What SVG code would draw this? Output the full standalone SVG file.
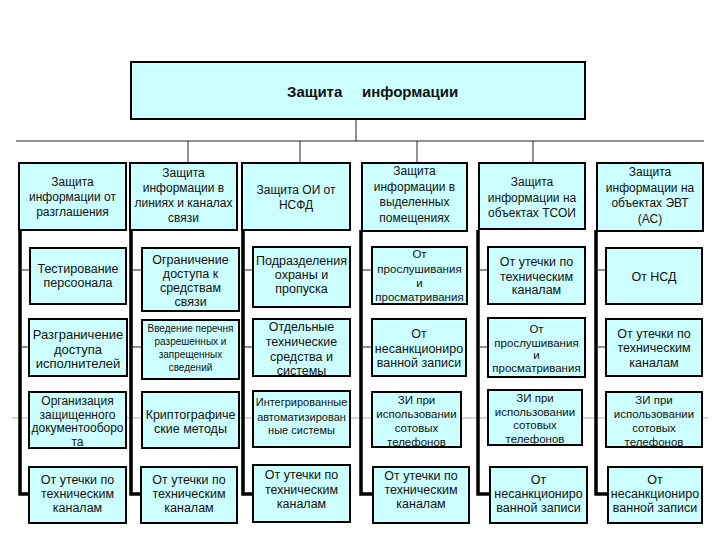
<svg xmlns="http://www.w3.org/2000/svg" width="720" height="540" viewBox="0 0 720 540">
<style>
.b{fill:#ccffff;stroke:#000;stroke-width:2}
.t{font-family:"Liberation Sans",Arial,sans-serif;font-size:12px;fill:#111;text-anchor:middle}
.s{font-size:12.5px}
.xs{font-size:11.5px}
.tiny{font-size:10px}
.c{stroke:#222;stroke-width:1;fill:none}
.k{stroke:#000;stroke-width:3.5;fill:none}
.g{stroke:#aaa;stroke-width:1;fill:none}
</style>
<rect width="720" height="540" fill="#fff"/>
<g id="connectors">
<line class="c" x1="356" y1="119" x2="356" y2="141"/>
<line class="c" x1="16" y1="141" x2="704" y2="141"/>
<line class="c" x1="188" y1="141" x2="188" y2="163"/>
<line class="c" x1="300" y1="141" x2="300" y2="163"/>
<line class="c" x1="417" y1="141" x2="417" y2="163"/>
<line class="c" x1="533" y1="141" x2="533" y2="163"/>
<line class="g" x1="12" y1="418" x2="708" y2="418"/>
<path class="k" d="M20,230 V494 H29"/>
<path class="k" d="M131,230 V494 H141"/>
<path class="k" d="M243,230 V494 H253"/>
<path class="k" d="M361,230 V494 H373"/>
<path class="k" d="M478,230 V494 H490"/>
<path class="k" d="M596,230 V494 H608"/>
<line class="c" x1="20" y1="270" x2="30" y2="270"/>
<line class="c" x1="131" y1="270" x2="142" y2="270"/>
<line class="c" x1="243" y1="270" x2="253" y2="270"/>
<line class="c" x1="361" y1="270" x2="372" y2="270"/>
<line class="c" x1="478" y1="270" x2="488" y2="270"/>
<line class="c" x1="596" y1="270" x2="606" y2="270"/>
<line class="c" x1="20" y1="347" x2="29" y2="347"/>
<line class="c" x1="131" y1="347" x2="142" y2="347"/>
<line class="c" x1="243" y1="347" x2="253" y2="347"/>
<line class="c" x1="361" y1="347" x2="372" y2="347"/>
<line class="c" x1="478" y1="347" x2="488" y2="347"/>
<line class="c" x1="596" y1="347" x2="606" y2="347"/>
</g>
<g id="root">
<rect class="b" x="131" y="62" width="454" height="57"/>
<text style="font-family:'Liberation Sans',Arial,sans-serif;font-size:15px;font-weight:bold;fill:#111" y="97"><tspan x="287">Защита</tspan><tspan x="362">информации</tspan></text>
</g>
<g id="h1"><rect class="b" x="19" y="163" width="107" height="67"/><text class="t"><tspan x="72.5" y="186">Защита</tspan><tspan x="72.5" y="201">информации от</tspan><tspan x="72.5" y="216">разглашения</tspan></text></g>
<g id="h2"><rect class="b" x="130" y="163" width="107" height="67"/><text class="t"><tspan x="183.5" y="177">Защита</tspan><tspan x="183.5" y="192">информации в</tspan><tspan x="183.5" y="207">линиях и каналах</tspan><tspan x="183.5" y="222">связи</tspan></text></g>
<g id="h3"><rect class="b" x="242" y="163" width="108" height="67"/><text class="t"><tspan x="296" y="194">Защита ОИ от</tspan><tspan x="296" y="209">НСФД</tspan></text></g>
<g id="h4"><rect class="b" x="362" y="163" width="105" height="68"/><text class="t"><tspan x="414.5" y="175">Защита</tspan><tspan x="414.5" y="191">информации в</tspan><tspan x="414.5" y="206">выделенных</tspan><tspan x="414.5" y="222">помещениях</tspan></text></g>
<g id="h5"><rect class="b" x="479" y="163" width="106" height="66"/><text class="t"><tspan x="532" y="186">Защита</tspan><tspan x="532" y="202">информации на</tspan><tspan x="532" y="217">объектах ТСОИ</tspan></text></g>
<g id="h6"><rect class="b" x="597" y="163" width="106" height="68"/><text class="t"><tspan x="650" y="176">Защита</tspan><tspan x="650" y="192">информации на</tspan><tspan x="650" y="207">объектах ЭВТ</tspan><tspan x="650" y="223">(АС)</tspan></text></g>

<g id="r1c1"><rect class="b" x="30" y="248" width="96" height="56"/><text class="t s"><tspan x="78" y="273">Тестирование</tspan><tspan x="78" y="287">персоонала</tspan></text></g>
<g id="r1c2"><rect class="b" x="142" y="248" width="97" height="63"/><text class="t s"><tspan x="190.5" y="264">Ограничение</tspan><tspan x="190.5" y="278">доступа к</tspan><tspan x="190.5" y="292">средствам</tspan><tspan x="190.5" y="306">связи</tspan></text></g>
<g id="r1c3"><rect class="b" x="253" y="247" width="97" height="60"/><text class="t s"><tspan x="301.5" y="265">Подразделения</tspan><tspan x="301.5" y="279">охраны и</tspan><tspan x="301.5" y="293">пропуска</tspan></text></g>
<g id="r1c4"><rect class="b" x="372" y="247" width="95" height="57"/><text class="t xs"><tspan x="419.5" y="258">От</tspan><tspan x="419.5" y="273">прослушивания</tspan><tspan x="419.5" y="287">и</tspan><tspan x="419.5" y="301">просматривания</tspan></text></g>
<g id="r1c5"><rect class="b" x="488" y="247" width="97" height="57"/><text class="t s"><tspan x="536.5" y="266">От утечки по</tspan><tspan x="536.5" y="281">техническим</tspan><tspan x="536.5" y="294">каналам</tspan></text></g>
<g id="r1c6"><rect class="b" x="606" y="248" width="96" height="56"/><text class="t s"><tspan x="654" y="281">От НСД</tspan></text></g>

<g id="r2c1"><rect class="b" x="29" y="319" width="98" height="57"/><text class="t" style="font-size:13px"><tspan x="78" y="339">Разграничение</tspan><tspan x="78" y="354">доступа</tspan><tspan x="78" y="368">исполнителей</tspan></text></g>
<g id="r2c2"><rect class="b" x="142" y="320" width="97" height="59"/><text class="t tiny"><tspan x="190.5" y="332">Введение перечня</tspan><tspan x="190.5" y="345">разрешенных и</tspan><tspan x="190.5" y="358">запрещенных</tspan><tspan x="190.5" y="371">сведений</tspan></text></g>
<g id="r2c3"><rect class="b" x="253" y="319" width="97" height="57"/><text class="t s"><tspan x="301.5" y="331">Отдельные</tspan><tspan x="301.5" y="346">технические</tspan><tspan x="301.5" y="361">средства и</tspan><tspan x="301.5" y="375">системы</tspan></text></g>
<g id="r2c4"><rect class="b" x="372" y="319" width="94" height="57"/><text class="t s"><tspan x="419" y="338">От</tspan><tspan x="419" y="353">несанкциониро</tspan><tspan x="419" y="367">ванной записи</tspan></text></g>
<g id="r2c5"><rect class="b" x="488" y="318" width="97" height="59"/><text class="t xs"><tspan x="536.5" y="333">От</tspan><tspan x="536.5" y="347">прослушивания</tspan><tspan x="536.5" y="359">и</tspan><tspan x="536.5" y="372">просматривания</tspan></text></g>
<g id="r2c6"><rect class="b" x="606" y="319" width="96" height="57"/><text class="t s"><tspan x="654" y="338">От утечки по</tspan><tspan x="654" y="352">техническим</tspan><tspan x="654" y="367">каналам</tspan></text></g>

<g id="r3c1"><rect class="b" x="29" y="392" width="97" height="56"/><text class="t"><tspan x="77.5" y="405">Организация</tspan><tspan x="77.5" y="419">защищенного</tspan><tspan x="77.5" y="432">документооборо</tspan><tspan x="77.5" y="446">та</tspan></text></g>
<g id="r3c2"><rect class="b" x="142" y="392" width="97" height="56"/><text class="t s"><tspan x="190.5" y="419">Криптографиче</tspan><tspan x="190.5" y="433">ские методы</tspan></text></g>
<g id="r3c3"><rect class="b" x="253" y="391" width="97" height="56"/><text class="t" style="font-size:11px"><tspan x="301.5" y="406">Интегрированные</tspan><tspan x="301.5" y="421">автоматизирован</tspan><tspan x="301.5" y="434">ные системы</tspan></text></g>
<g id="r3c4"><rect class="b" x="372" y="392" width="89" height="55"/><text class="t xs"><tspan x="416.5" y="404">ЗИ при</tspan><tspan x="416.5" y="418">использовании</tspan><tspan x="416.5" y="432">сотовых</tspan><tspan x="416.5" y="446">телефонов</tspan></text></g>
<g id="r3c5"><rect class="b" x="488" y="390" width="94" height="55"/><text class="t xs"><tspan x="535" y="402">ЗИ при</tspan><tspan x="535" y="415.5">использовании</tspan><tspan x="535" y="429">сотовых</tspan><tspan x="535" y="442.5">телефонов</tspan></text></g>
<g id="r3c6"><rect class="b" x="606" y="392" width="96" height="55"/><text class="t xs"><tspan x="654" y="404">ЗИ при</tspan><tspan x="654" y="418">использовании</tspan><tspan x="654" y="432">сотовых</tspan><tspan x="654" y="446">телефонов</tspan></text></g>

<g id="r4c1"><rect class="b" x="29" y="467" width="97" height="56"/><text class="t s"><tspan x="77.5" y="484">От утечки по</tspan><tspan x="77.5" y="498">техническим</tspan><tspan x="77.5" y="512">каналам</tspan></text></g>
<g id="r4c2"><rect class="b" x="141" y="467" width="96" height="56"/><text class="t s"><tspan x="189" y="484">От утечки по</tspan><tspan x="189" y="498">техническим</tspan><tspan x="189" y="512">каналам</tspan></text></g>
<g id="r4c3"><rect class="b" x="253" y="465" width="97" height="57"/><text class="t s"><tspan x="301.5" y="479">От утечки по</tspan><tspan x="301.5" y="494">техническим</tspan><tspan x="301.5" y="508">каналам</tspan></text></g>
<g id="r4c4"><rect class="b" x="373" y="467" width="96" height="56"/><text class="t s"><tspan x="421" y="480">От утечки по</tspan><tspan x="421" y="494">техническим</tspan><tspan x="421" y="508">каналам</tspan></text></g>
<g id="r4c5"><rect class="b" x="490" y="467" width="97" height="56"/><text class="t s"><tspan x="538.5" y="484">От</tspan><tspan x="538.5" y="498">несанкциониро</tspan><tspan x="538.5" y="512">ванной записи</tspan></text></g>
<g id="r4c6"><rect class="b" x="608" y="467" width="94" height="56"/><text class="t s"><tspan x="655" y="484">От</tspan><tspan x="655" y="498">несанкциониро</tspan><tspan x="655" y="512">ванной записи</tspan></text></g>
</svg>
